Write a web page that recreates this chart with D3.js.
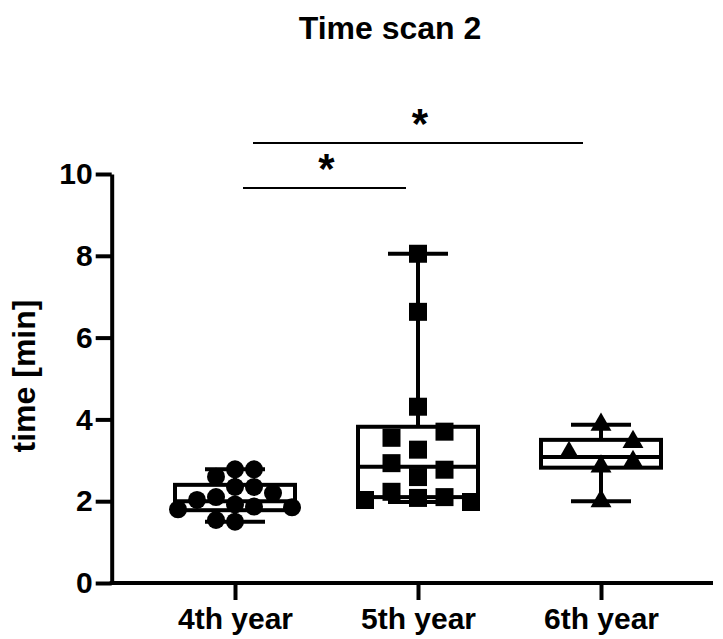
<!DOCTYPE html>
<html>
<head>
<meta charset="utf-8">
<script src="https://cdn.jsdelivr.net/npm/d3@7"></script>
<style>
  body { margin: 0; background: #fff; }
  svg { display: block; font-family: "Liberation Sans", Arial, sans-serif; font-weight: bold; }
</style>
</head>
<body>
<div id="chart"></div>
<script>
// groups and raw values (min)
var groups = ["4th year", "5th year", "6th year"];
var year4 = [2.78, 2.78, 2.60, 2.35, 2.35, 2.20, 2.10, 2.03, 1.92, 1.87, 1.85, 1.80, 1.54, 1.50];
var year5 = [8.05, 6.63, 4.31, 3.26, 2.59, 2.08, 3.70, 3.55, 2.77, 2.93, 2.10, 2.23, 1.98, 2.03];
var year6 = [3.87, 2.85, 2.00, 3.45, 3.18, 2.96];

// box summaries
var boxMin = [1.50, 1.98, 2.00];
var boxQ1 = [1.78, 2.10, 2.82];
var boxMed = [2.00, 2.84, 3.08];
var boxQ3 = [2.40, 3.82, 3.50];
var boxMax = [2.78, 8.05, 3.87];

var yTicks = [0, 2, 4, 6, 8, 10];
var comparisons = [["4th year", "5th year"], ["4th year", "6th year"]];
var sigLabels = ["*", "*"];

var width = 723;
var height = 639;
var axisLeftX = 111.7;
var axisRightX = 713;

var svg = d3.select("#chart")
    .append("svg")
    .attr("width", width)
    .attr("height", height);

var yScale = d3.scaleLinear().domain([0, 10]).range([583, 174]);
var xScale = d3.scalePoint().domain(groups).range([235, 601]);

// title
svg.append("text")
    .attr("x", 390)
    .attr("y", 39)
    .attr("text-anchor", "middle")
    .style("font-size", "32px")
    .text("Time scan 2");

// y label
svg.append("text")
    .attr("transform", "translate(35,376)rotate(-90)")
    .attr("text-anchor", "middle")
    .style("font-size", "32px")
    .text("time [min]");

// axes
var yAxis = svg.append("g")
    .attr("transform", "translate(" + axisLeftX + ",0)")
    .call(d3.axisLeft(yScale).tickValues(yTicks).tickSize(16).tickSizeOuter(0).tickPadding(3));

yAxis.select(".domain").attr("stroke-width", 4);
yAxis.selectAll(".tick line").attr("stroke-width", 4);
yAxis.selectAll(".tick text")
    .attr("fill", "#000")
    .style("font-size", "30px")
    .style("font-family", "Liberation Sans, Arial, sans-serif")
    .style("font-weight", "bold");

var xAxis = svg.append("g")
    .attr("transform", "translate(0," + yScale(0) + ")")
    .call(d3.axisBottom(xScale).tickSize(17).tickPadding(8));

xAxis.select(".domain").remove();
xAxis.selectAll(".tick line").attr("stroke-width", 4);
xAxis.selectAll(".tick text")
    .attr("fill", "#000")
    .style("font-size", "30px")
    .style("font-family", "Liberation Sans, Arial, sans-serif")
    .style("font-weight", "bold");

xAxis.append("line")
    .attr("x1", axisLeftX - 2)
    .attr("x2", axisRightX)
    .attr("y1", 0)
    .attr("y2", 0)
    .attr("stroke", "#000")
    .attr("stroke-width", 4);

// boxes and whiskers
var boxHalf = 60;
var capHalf = 30;
var boxes = svg.append("g").attr("stroke", "#000").attr("stroke-width", 4).attr("fill", "none");

groups.forEach(function(g, i) {
    var cx = xScale(g);
    boxes.append("line")
        .attr("x1", cx).attr("x2", cx)
        .attr("y1", yScale(boxMax[i])).attr("y2", yScale(boxQ3[i]));
    boxes.append("line")
        .attr("x1", cx).attr("x2", cx)
        .attr("y1", yScale(boxQ1[i])).attr("y2", yScale(boxMin[i]));
    boxes.append("line")
        .attr("x1", cx - capHalf).attr("x2", cx + capHalf)
        .attr("y1", yScale(boxMax[i])).attr("y2", yScale(boxMax[i]));
    boxes.append("line")
        .attr("x1", cx - capHalf).attr("x2", cx + capHalf)
        .attr("y1", yScale(boxMin[i])).attr("y2", yScale(boxMin[i]));
    boxes.append("rect")
        .attr("x", cx - boxHalf)
        .attr("y", yScale(boxQ3[i]))
        .attr("width", boxHalf * 2)
        .attr("height", yScale(boxQ1[i]) - yScale(boxQ3[i]));
    boxes.append("line")
        .attr("x1", cx - boxHalf).attr("x2", cx + boxHalf)
        .attr("y1", yScale(boxMed[i])).attr("y2", yScale(boxMed[i]));
});

// spread points sideways so they don't sit on top of each other (data order)
function swarm(values, step, gap) {
    var placed = [];
    var slots = [0, 1, -1, 2, -2, 3, -3, 4, -4];
    return values.map(function(v) {
        var py = yScale(v);
        var slot = slots.find(function(s) {
            return !placed.some(function(p) {
                return p.slot === s && Math.abs(p.py - py) < gap;
            });
        });
        placed.push({ slot: slot, py: py });
        return { v: v, off: slot * step };
    });
}

var series = [
    { name: "4th year", values: year4, shape: d3.symbolCircle, size: 254, step: 19, gap: 17 },
    { name: "5th year", values: year5, shape: d3.symbolSquare, size: 324, step: 26.5, gap: 19 },
    { name: "6th year", values: year6, shape: d3.symbolTriangle, size: 190, step: 32, gap: 19 }
];

series.forEach(function(s) {
    var pts = swarm(s.values, s.step, s.gap);
    svg.append("g")
        .selectAll("path")
        .data(pts)
        .enter()
        .append("path")
        .attr("d", d3.symbol().type(s.shape).size(s.size))
        .attr("transform", function(d) {
            return "translate(" + (xScale(s.name) + d.off) + "," + yScale(d.v) + ")";
        })
        .attr("fill", "#000");
});

// significance brackets
comparisons.forEach(function(c, i) {
    var ly = yScale(10) + 14 - i * 45;
    var x1 = xScale(c[0]) + 8 + i * 10;
    var x2 = xScale(c[1]) - 12 - i * 6;
    svg.append("line")
        .attr("x1", x1).attr("x2", x2)
        .attr("y1", ly).attr("y2", ly)
        .attr("stroke", "#000")
        .attr("stroke-width", 2);
    svg.append("text")
        .attr("x", (x1 + x2) / 2 + 2)
        .attr("y", ly - 5)
        .attr("text-anchor", "middle")
        .style("font-size", "42px")
        .text(sigLabels[i]);
});
</script>
</body>
</html>
